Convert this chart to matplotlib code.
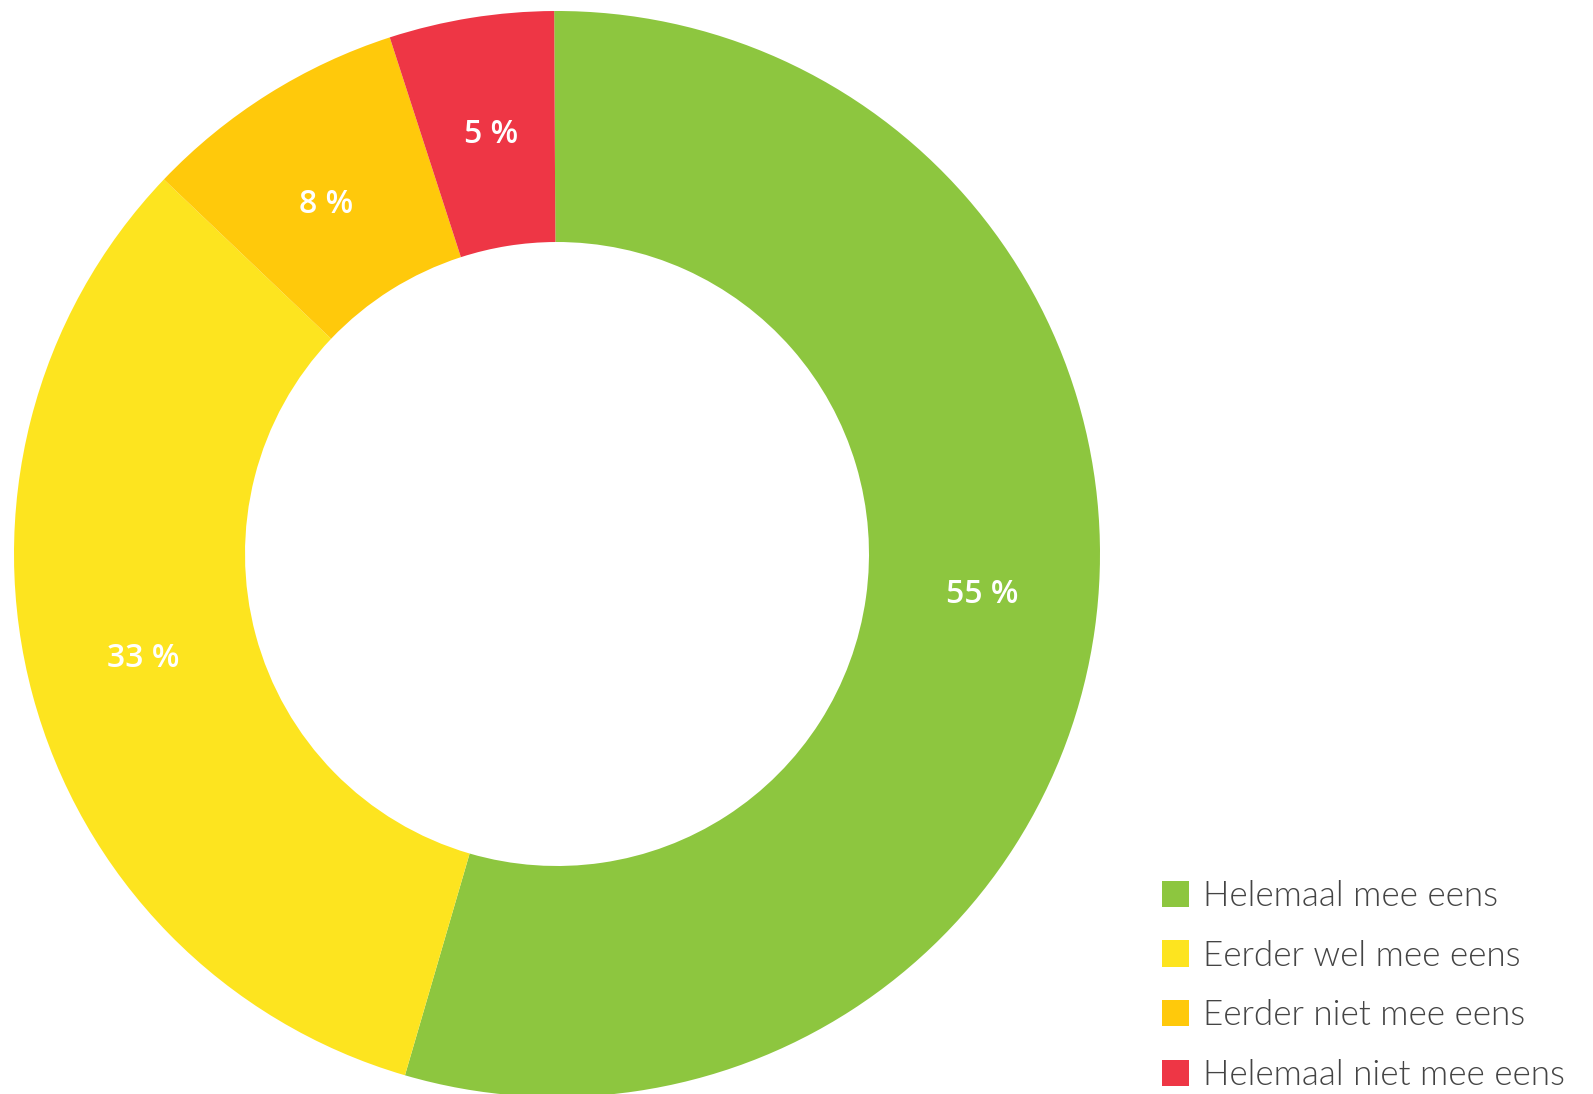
import numpy as np
import matplotlib.pyplot as plt
from matplotlib.patches import Patch

categories = ["Helemaal mee eens", "Eerder wel mee eens", "Eerder niet mee eens", "Helemaal niet mee eens"]
values = [54.6, 32.6, 7.9, 4.9]
labels = ["55 %", "33 %", "8 %", "5 %"]
colors = ["#8dc63f", "#fde41f", "#ffc90b", "#ee3645"]
# small nudges of the percentage labels (pixels, x right / y down)
label_nudge = [(2, -19), (-1, -6), (-3, 12), (2, 3)]

W, H = 1593, 1094
fig = plt.figure(figsize=(W / 100, H / 100), dpi=100)

cx, cy, r = 557, 554, 543
ax = fig.add_axes([(cx - r) / W, (H - cy - r) / H, 2 * r / W, 2 * r / H])

inner = 312 / 543
wedges, _ = ax.pie(values, colors=colors, startangle=90.3, counterclock=False, radius=1,
                   wedgeprops=dict(width=1 - inner, edgecolor="none"))

mid_r = (1 + inner) / 2
for w, lab, (nx, ny) in zip(wedges, labels, label_nudge):
    ang = np.deg2rad((w.theta1 + w.theta2) / 2)
    x = mid_r * np.cos(ang) + nx * 1.016 / r
    y = mid_r * np.sin(ang) - ny * 1.016 / r
    ax.text(x, y, lab, ha="center", va="center",
            color="white", fontsize=23, fontweight="semibold", family="Open Sans")
ax.set_xlim(-1, 1)
ax.set_ylim(-1, 1)
ax.set_aspect("equal")
ax.axis("off")

handles = [Patch(facecolor=c, edgecolor="none") for c in colors]
leg = fig.legend(handles, categories, loc="upper left", bbox_to_anchor=(1162 / W, 214 / H),
                 frameon=False, prop=dict(family="Lato", weight=300, size=25.2),
                 borderpad=0, borderaxespad=0,
                 handlelength=0.78, handleheight=0.78, handletextpad=0.4, labelspacing=0.79)
for t in leg.get_texts():
    t.set_color("#444444")

fig.savefig("out.png", dpi=100)
